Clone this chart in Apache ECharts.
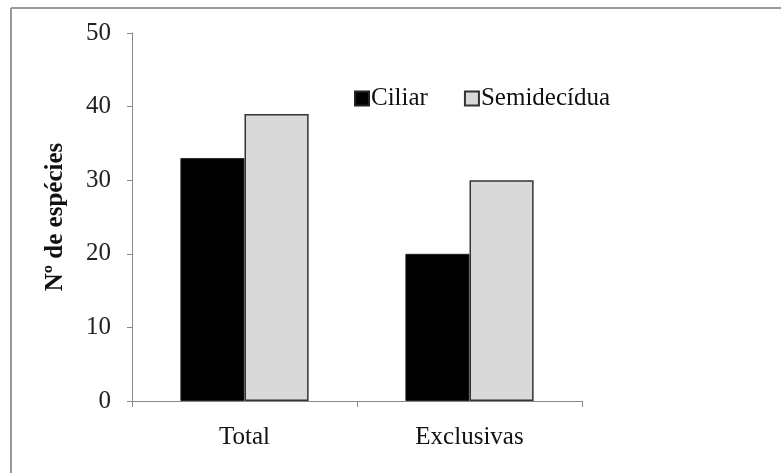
<!DOCTYPE html>
<html>
<head>
<meta charset="utf-8">
<script src="https://cdn.jsdelivr.net/npm/echarts@6/dist/echarts.min.js"></script>
<style>
html, body { margin: 0; padding: 0; background: #fff; }
#main { width: 781px; height: 473px; }
</style>
</head>
<body>
<div id="main"></div>
<script>
var categories = ['Total', 'Exclusivas'];
var ciliar = [33, 20];
var semidecidua = [39, 30];
var seriesNames = ['Ciliar', 'Semidecídua'];
var yTitle = 'Nº de espécies';

var fontFam = '"Liberation Serif", "Times New Roman", serif';
var myChart = echarts.init(document.getElementById('main'));

var option = {
	backgroundColor: '#fff',
	animation: false,
	textStyle: { fontFamily: fontFam },
	grid: { left: 132, right: 199, top: 33, bottom: 72 },
	legend: {
		data: seriesNames,
		icon: 'rect',
		left: 349,
		top: 81,
		itemWidth: 14,
		itemHeight: 14,
		itemGap: 36,
		textStyle: { fontFamily: fontFam, fontSize: 25, color: '#111', padding: [0, 0, 0, -3] }
	},
	// marco exterior (solo arriba e izquierda, la imagen esta recortada)
	graphic: [
		{ type: 'line', shape: { x1: 11, y1: 8, x2: 781, y2: 8 }, style: { stroke: '#999', lineWidth: 2 } },
		{ type: 'line', shape: { x1: 11, y1: 8, x2: 11, y2: 473 }, style: { stroke: '#999', lineWidth: 2 } }
	],
	xAxis: {
		type: 'category',
		data: categories,
		axisLine: { lineStyle: { color: '#888', width: 1 } },
		axisTick: { show: true, length: 6, lineStyle: { color: '#888' } },
		axisLabel: { color: '#111', fontSize: 25, fontFamily: fontFam, margin: 24 }
	},
	yAxis: {
		type: 'value',
		min: 0,
		max: 50,
		interval: 10,
		name: yTitle,
		nameLocation: 'middle',
		nameGap: 64,
		nameTextStyle: { fontFamily: fontFam, fontSize: 25, fontWeight: 'bold', color: '#111' },
		axisLine: { show: true, lineStyle: { color: '#888', width: 1 } },
		axisTick: { show: true, length: 5, lineStyle: { color: '#888' } },
		axisLabel: { color: '#222', fontSize: 25, fontFamily: fontFam, margin: 21 },
		splitLine: { show: false }
	},
	series: [
		{
			name: seriesNames[0],
			type: 'bar',
			data: ciliar,
			barGap: '0%',
			barCategoryGap: '43%',
			itemStyle: { color: '#000', borderColor: '#222', borderWidth: 1 }
		},
		{
			name: seriesNames[1],
			type: 'bar',
			data: semidecidua,
			itemStyle: { color: '#d9d9d9', borderColor: '#333', borderWidth: 1.5 }
		}
	]
};

myChart.setOption(option);
</script>
</body>
</html>
